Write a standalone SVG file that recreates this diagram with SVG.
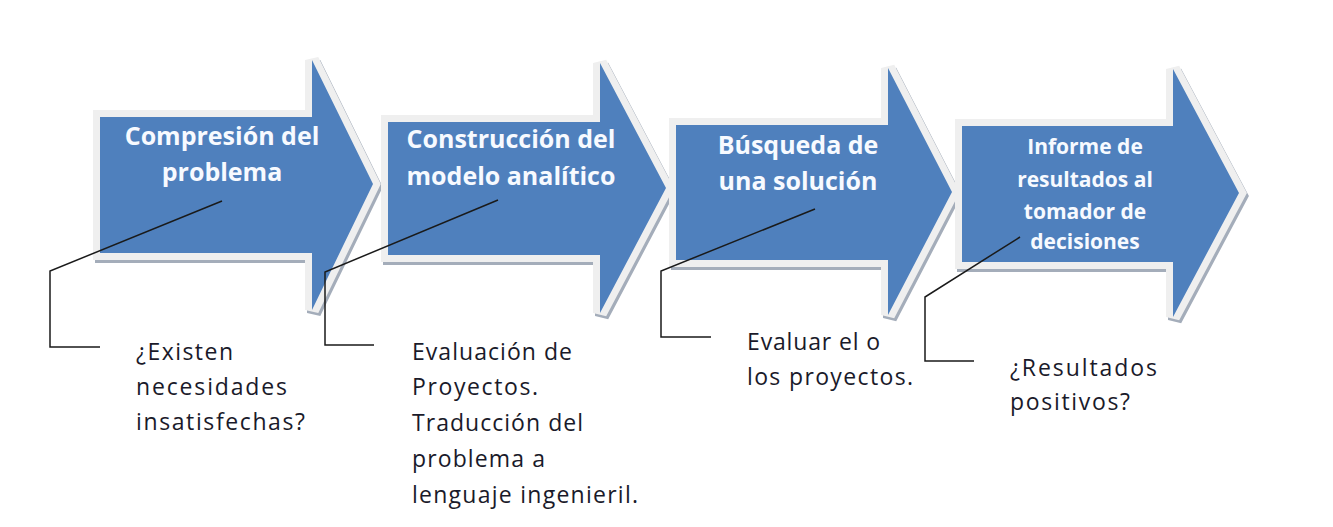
<svg xmlns="http://www.w3.org/2000/svg" width="1333" height="527" viewBox="0 0 1333 527">
  <style>
    .shadow { fill: #a4adba; stroke: #a4adba; stroke-width: 14; stroke-linejoin: miter; }
    .border { fill: #f0f0f0; stroke: #efefef; stroke-width: 14; stroke-linejoin: miter; }
    .body { fill: #4f80bd; stroke: none; }
    .head { font-family: "Open Sans", "Noto Sans", sans-serif; font-weight: bold; font-size: 25px; fill: #f7faff; text-anchor: middle; }
    .head4 { font-size: 21px; }
    .note { font-family: "Open Sans", "Noto Sans", sans-serif; font-size: 23px; fill: #1a1a2a; }
    .callout { fill: none; stroke: #1a1a1a; stroke-width: 1.5; }
  </style>
  <defs>
    <path id="a1" d="M100,117 L312,117 L312,60 L373,184 L312,310 L312,253 L100,253 Z"/>
    <path id="a2" d="M388,122 L600,122 L600,63 L666,188 L600,313 L600,255 L388,255 Z"/>
    <path id="a3" d="M676,125 L888,125 L888,68 L952,192 L888,315 L888,260 L676,260 Z"/>
    <path id="a4" d="M962,126 L1173,126 L1173,69 L1239,193 L1173,317 L1173,262 L962,262 Z"/>
  </defs>

  <g id="node1">
    <use href="#a1" class="shadow" transform="translate(2,3)"/>
    <use href="#a1" class="border"/>
    <use href="#a1" class="body"/>
    <text class="head"><tspan x="222" y="145">Compresión del</tspan><tspan x="222" y="181">problema</tspan></text>
  </g>
  <g id="node2">
    <use href="#a2" class="shadow" transform="translate(2,3)"/>
    <use href="#a2" class="border"/>
    <use href="#a2" class="body"/>
    <text class="head"><tspan x="511" y="148">Construcción del</tspan><tspan x="511" y="185">modelo analítico</tspan></text>
  </g>
  <g id="node3">
    <use href="#a3" class="shadow" transform="translate(2,3)"/>
    <use href="#a3" class="border"/>
    <use href="#a3" class="body"/>
    <text class="head"><tspan x="798" y="154">Búsqueda de</tspan><tspan x="798" y="190">una solución</tspan></text>
  </g>
  <g id="node4">
    <use href="#a4" class="shadow" transform="translate(2,3)"/>
    <use href="#a4" class="border"/>
    <use href="#a4" class="body"/>
    <text class="head head4"><tspan x="1085" y="154">Informe de</tspan><tspan x="1085" y="187">resultados al</tspan><tspan x="1085" y="219">tomador de</tspan><tspan x="1085" y="249">decisiones</tspan></text>
  </g>

  <g id="connectors">
    <polyline class="callout" points="222,201 50,271 50,347 100,347"/>
    <polyline class="callout" points="498,200 325,272 325,345 374,345"/>
    <polyline class="callout" points="815,209 661,271 661,337 711,337"/>
    <polyline class="callout" points="1020,237 925,297 925,361 974,361"/>
  </g>

  <g id="note1">
    <text class="note" x="136" y="360" textLength="97" lengthAdjust="spacing">¿Existen</text>
    <text class="note" x="136" y="395" textLength="151" lengthAdjust="spacing">necesidades</text>
    <text class="note" x="136" y="430" textLength="169" lengthAdjust="spacing">insatisfechas?</text>
  </g>
  <g id="note2">
    <text class="note" x="412" y="360" textLength="160" lengthAdjust="spacing">Evaluación de</text>
    <text class="note" x="412" y="395" textLength="126" lengthAdjust="spacing">Proyectos.</text>
    <text class="note" x="412" y="431" textLength="171" lengthAdjust="spacing">Traducción del</text>
    <text class="note" x="412" y="467" textLength="133" lengthAdjust="spacing">problema a</text>
    <text class="note" x="412" y="503" textLength="226" lengthAdjust="spacing">lenguaje ingenieril.</text>
  </g>
  <g id="note3">
    <text class="note" x="747" y="350" textLength="133" lengthAdjust="spacing">Evaluar el o</text>
    <text class="note" x="747" y="385" textLength="166" lengthAdjust="spacing">los proyectos.</text>
  </g>
  <g id="note4">
    <text class="note" x="1010" y="376" textLength="147" lengthAdjust="spacing">¿Resultados</text>
    <text class="note" x="1010" y="410" textLength="120" lengthAdjust="spacing">positivos?</text>
  </g>
</svg>
